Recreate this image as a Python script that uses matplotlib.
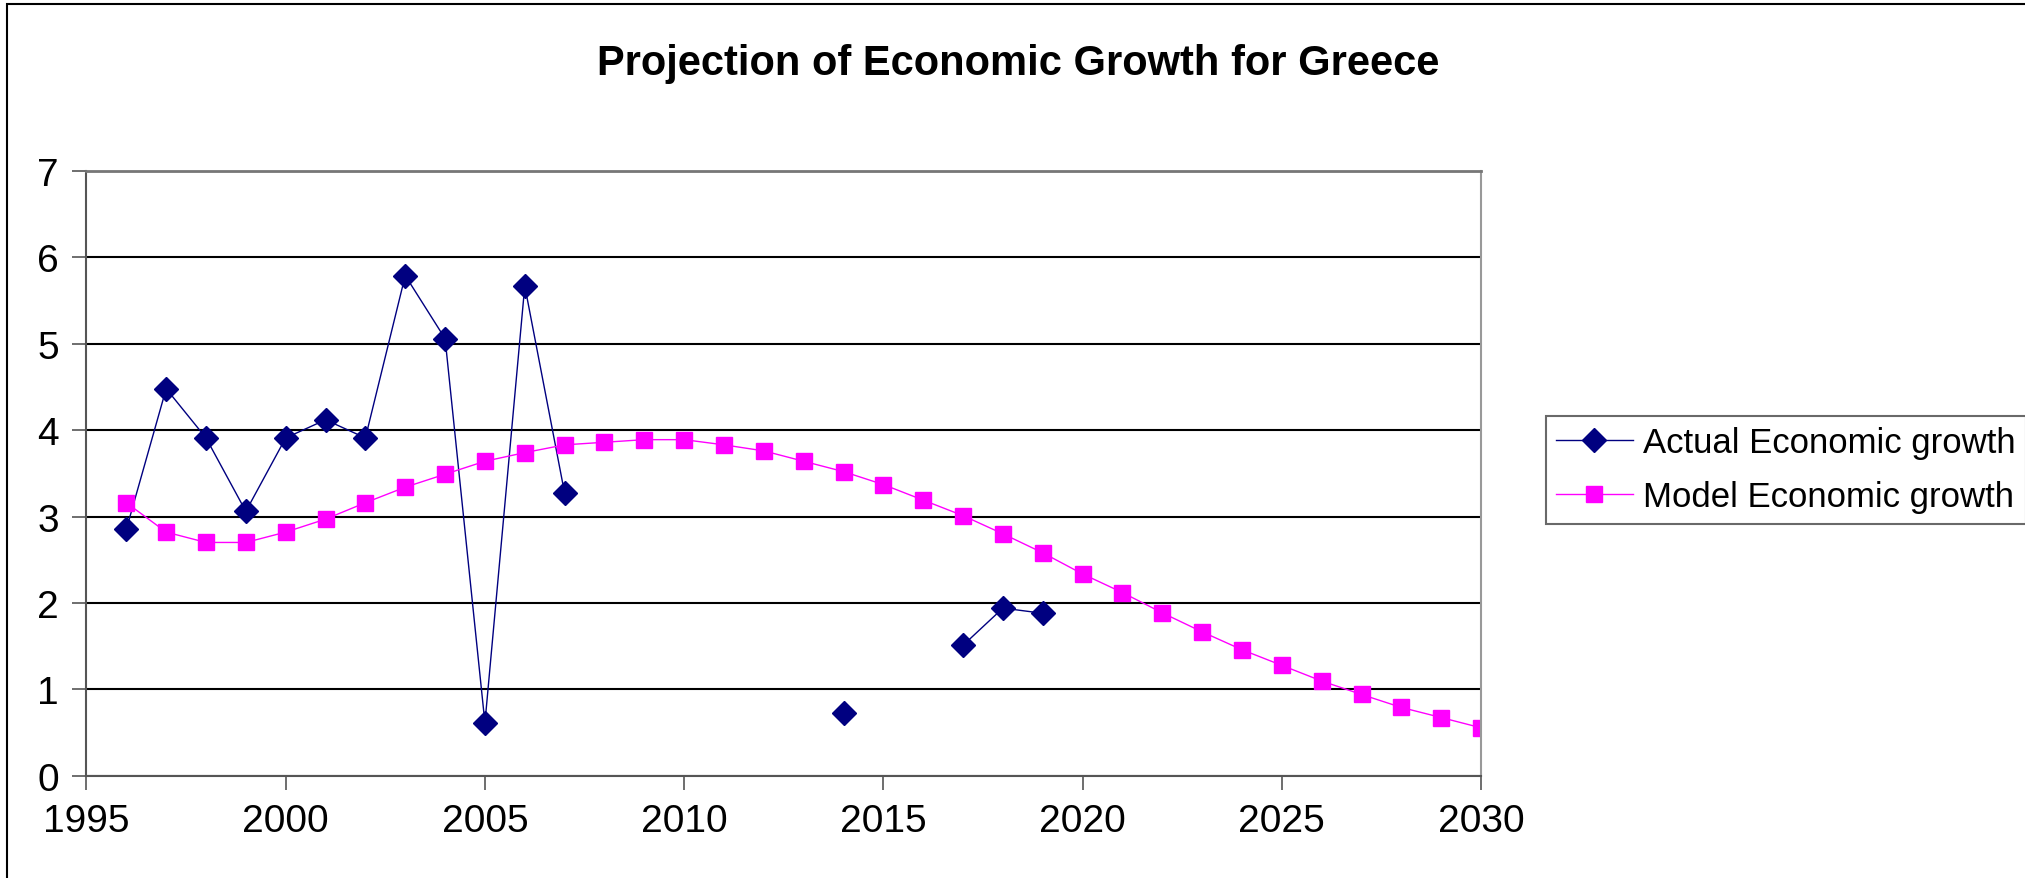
import matplotlib.pyplot as plt
import numpy as np
from matplotlib.patches import Rectangle

plt.rcParams['font.family'] = ['Liberation Sans', 'DejaVu Sans']

years = list(range(1996, 2031))

# observed growth, gaps where no figure was available
actual_years = [1996, 1997, 1998, 1999, 2000, 2001, 2002, 2003, 2004, 2005, 2006, 2007,
                2008, 2009, 2010, 2011, 2012, 2013, 2014, 2015, 2016, 2017, 2018, 2019]
actual_growth = [2.85, 4.48, 3.91, 3.06, 3.91, 4.12, 3.91, 5.79, 5.06, 0.61, 5.67, 3.27,
                 np.nan, np.nan, np.nan, np.nan, np.nan, np.nan, 0.73, np.nan, np.nan,
                 1.51, 1.94, 1.88]

model_growth = [3.16, 2.82, 2.70, 2.70, 2.82, 2.97, 3.16, 3.34, 3.49, 3.64, 3.74, 3.83,
                3.86, 3.89, 3.89, 3.83, 3.76, 3.64, 3.52, 3.37, 3.19, 3.01, 2.80, 2.58,
                2.335, 2.12, 1.885, 1.665, 1.458, 1.277, 1.096, 0.94, 0.79, 0.673, 0.554]

fig = plt.figure(figsize=(20.25, 8.79), dpi=100)
ax = fig.add_axes([0.0427, 0.1164, 0.6887, 0.6879])

ax.plot(actual_years, actual_growth, color='#000080', lw=1.0, marker='D', ms=12,
        label='Actual Economic growth')
ax.plot(years, model_growth, color='#FF00FF', lw=1.0, marker='s', ms=11,
        label='Model Economic growth')

ax.set_xlim(1995, 2030)
ax.set_ylim(0, 7)
ax.set_xticks(range(1995, 2031, 5))
ax.set_yticks(range(0, 8))
ax.yaxis.grid(True, color='black', lw=1.5)
ax.set_axisbelow(True)
ax.tick_params(axis='both', labelsize=28, length=10, width=1.2, color='#555555', pad=10)
for side in ['left', 'bottom']:
    ax.spines[side].set_color('#555555')
    ax.spines[side].set_linewidth(1.5)
ax.spines['top'].set_color('#777777')
ax.spines['top'].set_linewidth(2)
ax.spines['right'].set_color('#999999')
ax.spines['right'].set_linewidth(1.5)

fig.text(0.503, 0.927, 'Projection of Economic Growth for Greece', ha='center', va='center',
         fontsize=30, fontweight='bold')

leg = ax.legend(loc='upper left', bbox_to_anchor=(1.0464, 0.595), fontsize=25,
                frameon=True, fancybox=False, edgecolor='#444444', borderpad=0.3,
                handlelength=2.2, handletextpad=0.3, labelspacing=0.6, borderaxespad=0)
leg.get_frame().set_linewidth(1.5)

# outer chart border
fig.patches.append(Rectangle((0.0035, -0.01), 1.0, 1.004, transform=fig.transFigure,
                             fill=False, edgecolor='black', lw=1.5))

fig.savefig('out.png', dpi=100)
